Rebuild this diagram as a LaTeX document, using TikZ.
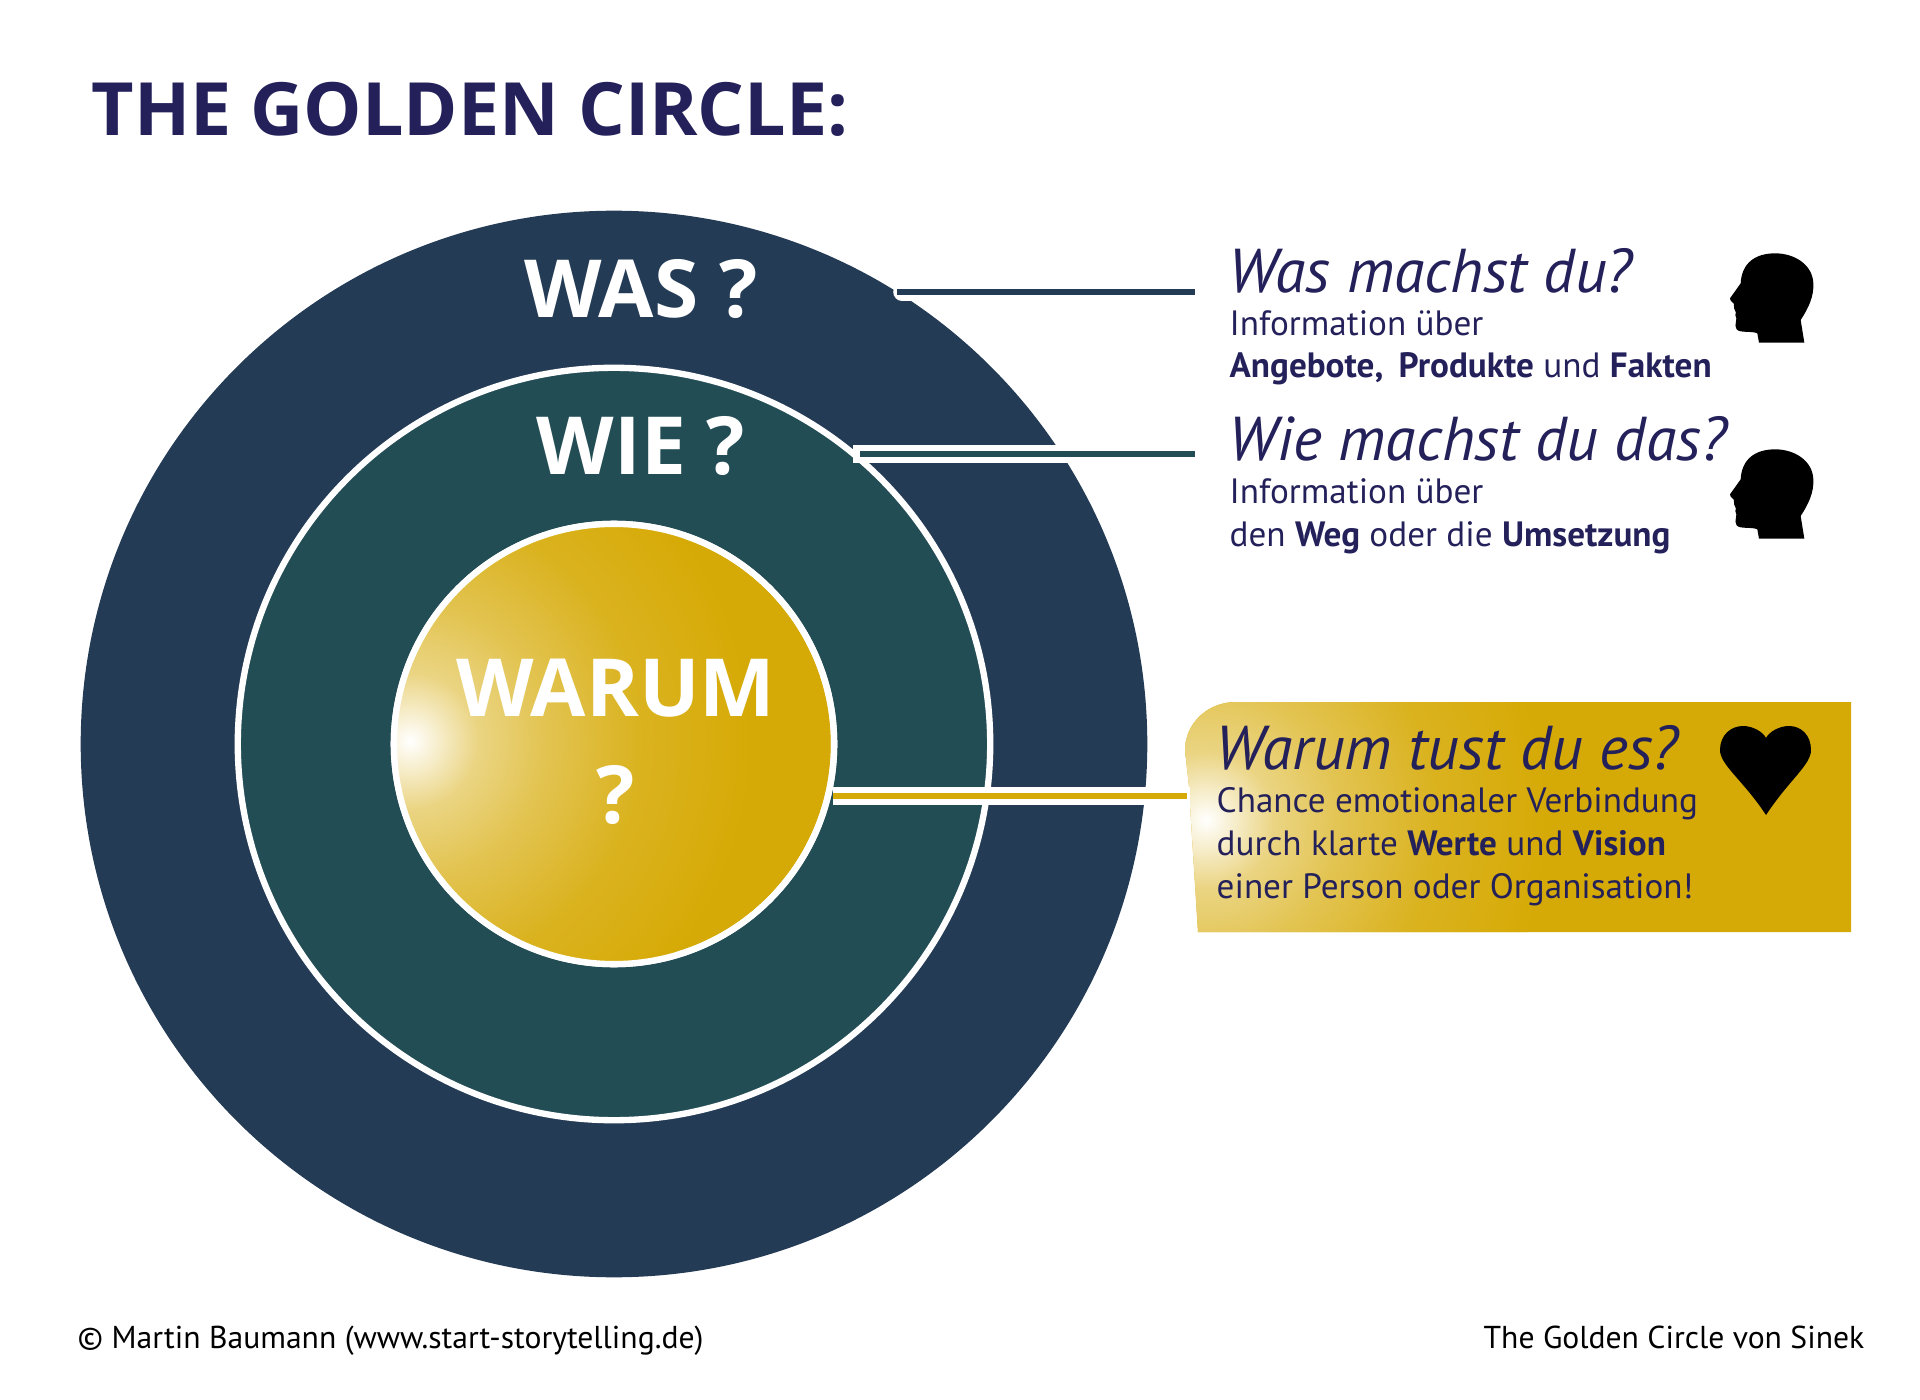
\documentclass[tikz,border=0pt]{standalone}
\usepackage{fontspec}
\setmainfont{PT Sans}
\newfontfamily\headfont{Open Sans}
\usetikzlibrary{positioning}
\definecolor{wasblue}{HTML}{233B55}
\definecolor{wiegreen}{HTML}{234D55}
\definecolor{warumgold}{HTML}{D6AA06}
\definecolor{inkblue}{HTML}{23205A}
\pgfdeclareradialshading{goldglow}{\pgfpoint{0bp}{0bp}}{color(0bp)=(white); color(2bp)=(white!80!warumgold);
  color(5bp)=(white!50!warumgold); color(10bp)=(white!30!warumgold); color(17bp)=(white!10!warumgold);
  color(25bp)=(warumgold); color(50bp)=(warumgold)}
\newcommand{\px}[1]{\fontsize{#1}{#1}\selectfont}
\newcommand{\boxpath}{(1198,932) -- (1190,805) -- (box) -- (1185,750) .. controls (1185,725) and (1206,702) .. (1236,702)
  -- (1851,702) -- (1851,932) -- cycle}
\tikzset{
  ring/.style={circle, draw=white, line width=1.8pt, inner sep=0pt},
  ringtext/.style={anchor=base, inner sep=0pt, text=white, font=\px{22.8}\headfont\bfseries},
  headline/.style={anchor=base west, inner sep=0pt, text=inkblue, font=\px{17.6}\itshape},
  bodytext/.style={anchor=base west, inner sep=0pt, text=inkblue, font=\px{10}},
  halo/.style={white, line width=5pt},
  head/.pic={
    \fill[black, scale=1/3] (237,338) -- (373,338) -- (362,270) .. controls (385,235) and (402,200) .. (400,160)
      .. controls (398,105) and (345,70) .. (285,70) .. controls (225,70) and (185,100) .. (182,160)
      -- (150,205) .. controls (150,218) and (165,215) .. (162,228) .. controls (160,240) and (172,245) .. (166,255)
      .. controls (175,268) and (160,285) .. (170,298) .. controls (180,310) and (215,302) .. (232,310) -- cycle;
  }
}
\begin{document}
\begin{tikzpicture}[x=0.01cm, y=-0.01cm]
\useasboundingbox (0,0) rectangle (1920,1400);

\node[circle, fill=wasblue, minimum size=10.66cm, inner sep=0pt] (was) at (614,744) {};
\node[ring, fill=wiegreen, minimum size=7.52cm] (wie) at (614,744) {};
\node[ring, fill=warumgold, minimum size=4.4cm] (warum) at (614,744) {};
\begin{scope}
\clip (warum.center) circle (220);
\shade[shading=goldglow] (410,741) circle (340);
\end{scope}
\node[ring, minimum size=4.4cm] (warumring) at (614,744) {};

% callout
\coordinate (box) at (1190,796);
\fill[warumgold] \boxpath;
\begin{scope}
\clip \boxpath;
\shade[shading=goldglow] (1206,820) circle (340);
\end{scope}

% connectors
\coordinate (wasend) at (1195,292);
\coordinate (wieend) at (1195,454);
\coordinate (wasin) at (897,292);
\coordinate (wiein) at (860,454);
\coordinate (warumin) at (833,796);
\draw[halo, line cap=round] (902,292) -- (wasend);
\draw[halo, line width=5.1pt] (853,454) -- (wieend);
\draw[halo] (warumin) -- (box);
\draw[wasblue, line width=1.7pt] (wasin) -- (wasend);
\draw[wiegreen, line width=1.7pt] (wiein) -- (wieend);
\draw[warumgold, line width=1.7pt] (warumin) -- (1187,796);

\node[anchor=base west, inner sep=0pt, text=inkblue, font=\px{20.9}\headfont\bfseries] (title) at (91,136) {THE GOLDEN CIRCLE:};

\node[ringtext] (wastext) at (641,318) {WAS ?};
\node[ringtext] (wietext) at (641,475) {WIE ?};
\node[ringtext] (warumtext) at (616,716) {WARUM};
\node[ringtext] (warumq) at (616,823) {?};

\node[headline] (q1) at (1228,293) {Was machst du?};
\node[bodytext] (q1a) at (1229,336) {Information über};
\node[bodytext] (q1b) at (1229,378) {\textbf{Angebote,}\, \textbf{Produkte} und \textbf{Fakten}};

\node[headline] (q2) at (1228,460) {Wie machst du das?};
\node[bodytext] (q2a) at (1229,503) {Information über};
\node[bodytext] (q2b) at (1229,546) {den \textbf{Weg} oder die \textbf{Umsetzung}};

\node[headline] (q3) at (1215,769) {Warum tust du es?};
\node[bodytext] (q3a) at (1216,812) {Chance emotionaler Verbindung};
\node[bodytext] (q3b) at (1216,855) {durch klarte \textbf{Werte} und \textbf{Vision}};
\node[bodytext] (q3c) at (1216,898) {einer Person oder Organisation!};

\pic at (1680,230) {head};
\pic at (1680,426) {head};
\fill[black] (1766,815) .. controls (1743,780) and (1720,765) .. (1720,750)
  .. controls (1720,735) and (1731,726) .. (1743,726) .. controls (1753,726) and (1763,732) .. (1766,738)
  .. controls (1769,732) and (1779,726) .. (1789,726) .. controls (1801,726) and (1811,735) .. (1811,750)
  .. controls (1811,765) and (1789,780) .. (1766,815) -- cycle;

\node[anchor=base west, inner sep=0pt, font=\px{9}] (copy) at (77,1348) {© Martin Baumann (www.start-storytelling.de)};
\node[anchor=base east, inner sep=0pt, font=\px{9}] (source) at (1865,1348) {The Golden Circle von Sinek};
\end{tikzpicture}
\end{document}
